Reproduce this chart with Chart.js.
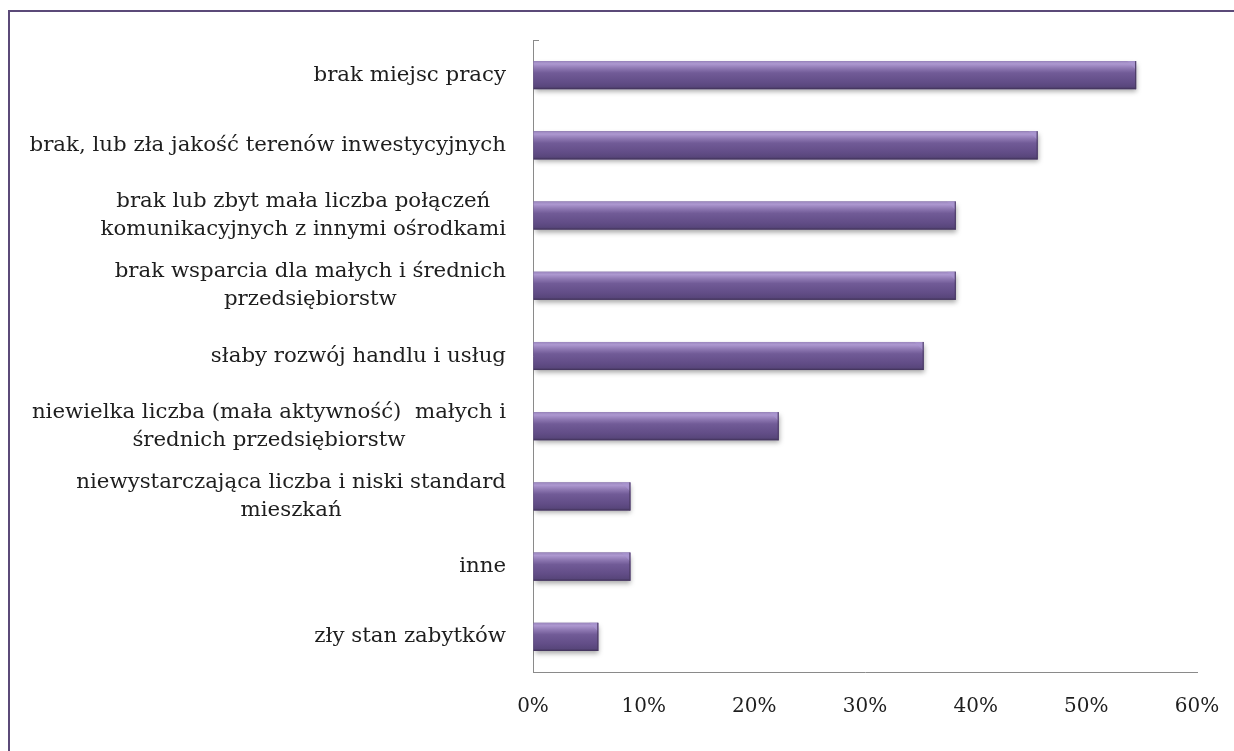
<!DOCTYPE html>
<html>
<head>
<meta charset="utf-8">
<script src="https://cdn.jsdelivr.net/npm/chart.js@4/dist/chart.umd.min.js"></script>
<style>
  html, body { margin: 0; padding: 0; background: #ffffff; overflow: hidden; }
  #wrap { position: relative; width: 1234px; height: 751px; }
  #frame { position: absolute; left: 8px; top: 10px; width: 1300px; height: 800px; border: 2px solid #5b4a78; box-sizing: border-box; }
  canvas { position: absolute; left: 0; top: 0; }
</style>
</head>
<body>
<div id="wrap">
  <div id="frame"></div>
  <canvas id="c" width="1234" height="751"></canvas>
</div>
<script>
const categories = [
  ["brak miejsc pracy"],
  ["brak, lub zła jakość terenów inwestycyjnych"],
  ["brak lub zbyt mała liczba połączeń ", "komunikacyjnych z innymi ośrodkami"],
  ["brak wsparcia dla małych i średnich", "przedsiębiorstw"],
  ["słaby rozwój handlu i usług"],
  ["niewielka liczba (mała aktywność)  małych i", "średnich przedsiębiorstw"],
  ["niewystarczająca liczba i niski standard", "mieszkań"],
  ["inne"],
  ["zły stan zabytków"]
];
const values = [54.5, 45.6, 38.2, 38.2, 35.3, 22.2, 8.8, 8.8, 5.9];
const xTicks = [0, 10, 20, 30, 40, 50, 60];

const FONT = '"DejaVu Serif", "Liberation Serif", serif';
const LABEL_SIZE = 21.3;
const LINE_H = 28;

const labelPlugin = {
  id: 'catLabels',
  afterDraw(chart) {
    const ctx = chart.ctx;
    const ys = chart.scales.y;
    const right = chart.chartArea.left - 27;
    ctx.save();
    ctx.font = LABEL_SIZE + 'px ' + FONT;
    ctx.fillStyle = '#1e1e1e';
    ctx.textAlign = 'center';
    ctx.textBaseline = 'middle';
    categories.forEach((lines, i) => {
      const cy = ys.getPixelForValue(i);
      const w = Math.max(...lines.map(l => ctx.measureText(l.trimEnd()).width));
      const cx = right - w / 2;
      const y0 = cy - (lines.length - 1) * LINE_H / 2;
      lines.forEach((l, k) => ctx.fillText(l.trimEnd(), cx, y0 + k * LINE_H));
    });
    // small tick at top of the category axis
    ctx.strokeStyle = '#8a8a8a';
    ctx.lineWidth = 1;
    ctx.beginPath();
    ctx.moveTo(chart.chartArea.left, chart.chartArea.top + 0.5);
    ctx.lineTo(chart.chartArea.left + 6, chart.chartArea.top + 0.5);
    ctx.stroke();
    ctx.restore();
  }
};

const barStyle = {
  id: 'barStyle',
  beforeDatasetDraw(chart) {
    const ctx = chart.ctx;
    ctx.save();
    ctx.shadowColor = 'rgba(0,0,0,0.35)';
    ctx.shadowBlur = 5;
    ctx.shadowOffsetX = 1;
    ctx.shadowOffsetY = 3;
  },
  afterDatasetDraw(chart) {
    const ctx = chart.ctx;
    ctx.restore();
    const meta = chart.getDatasetMeta(0);
    meta.data.forEach(el => {
      const p = el.getProps(['x', 'y', 'base', 'height'], true);
      const top = p.y - p.height / 2;
      const h = p.height;
      const left = Math.min(p.base, p.x);
      const w = Math.abs(p.x - p.base);
      const g = ctx.createLinearGradient(0, top, 0, top + h);
      g.addColorStop(0, '#9a86bd');
      g.addColorStop(0.1, '#ad98d0');
      g.addColorStop(0.25, '#8f79b3');
      g.addColorStop(0.42, '#715b97');
      g.addColorStop(0.75, '#624d87');
      g.addColorStop(0.92, '#58467b');
      g.addColorStop(1, '#3f3156');
      ctx.save();
      ctx.fillStyle = g;
      ctx.fillRect(left, top, w, h);
      // right bevel
      const bv = Math.min(9, w / 2);
      ctx.fillStyle = 'rgba(170,150,210,0.55)';
      ctx.beginPath();
      ctx.moveTo(p.x - bv, top);
      ctx.lineTo(p.x, top);
      ctx.lineTo(p.x, top + bv);
      ctx.closePath();
      ctx.fill();
      ctx.strokeStyle = '#4a3b62';
      ctx.lineWidth = 1;
      ctx.beginPath();
      ctx.moveTo(p.x - 0.5, top);
      ctx.lineTo(p.x - 0.5, top + h);
      ctx.stroke();
      ctx.restore();
    });
  }
};

new Chart(document.getElementById('c'), {
  type: 'bar',
  data: {
    labels: categories,
    datasets: [{
      data: values,
      backgroundColor: '#654f8a',
      borderWidth: 0,
      barPercentage: 0.4,
      categoryPercentage: 1.0
    }]
  },
  options: {
    indexAxis: 'y',
    responsive: false,
    animation: false,
    events: [],
    layout: { padding: { top: 40, right: 37, left: 0, bottom: 0 } },
    plugins: { legend: { display: false }, tooltip: { enabled: false } },
    scales: {
      x: {
        min: 0, max: 60,
        afterBuildTicks(scale) { scale.ticks = xTicks.map(v => ({ value: v })); },
        afterFit(scale) { scale.height = 79; scale.paddingLeft = 0; scale.paddingRight = 0; },
        grid: { display: true, drawOnChartArea: false, drawTicks: false },
        border: { display: true, color: '#8a8a8a', width: 1 },
        ticks: {
          padding: 23,
          color: '#1e1e1e',
          font: { family: FONT, size: 20 },
          callback: v => v + '%'
        }
      },
      y: {
        afterFit(scale) { scale.width = 533; scale.paddingTop = 0; scale.paddingBottom = 0; },
        grid: { display: true, drawOnChartArea: false, drawTicks: false },
        border: { display: true, color: '#8a8a8a', width: 1 },
        ticks: { display: false }
      }
    }
  },
  plugins: [barStyle, labelPlugin]
});
</script>
</body>
</html>
